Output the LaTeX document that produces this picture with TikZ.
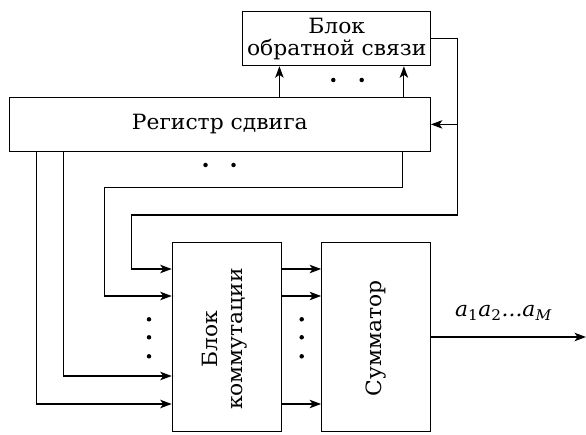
\documentclass[tikz,border=0pt]{standalone}
\usepackage{fontspec}
\setmainfont{DejaVu Serif}[FakeStretch=1.04]
\usetikzlibrary{arrows.meta,calc}
\begin{document}
\begin{tikzpicture}[x=1pt,y=-1pt,
 font=\fontsize{21}{22}\selectfont,
 blk/.style={draw,line width=1.2pt,inner sep=0pt},
 wire/.style={line width=1.1pt},
 arr/.style={wire,-{Stealth[length=11.5pt,width=8.5pt,inset=3pt]}},
 dotm/.style={circle,fill,inner sep=0pt,minimum size=4.5pt}]
\useasboundingbox (0,0) rectangle (586,435);
\node[blk,minimum width=188pt,minimum height=54pt,align=center] (fb) at (336.7,38.7) {Блок\\обратной связи};
\node[blk,minimum width=421pt,minimum height=54.2pt] (reg) at (219.8,124.4) {Регистр сдвига};
\node[blk,minimum width=109.4pt,minimum height=189.4pt] (comm) at (227,337) {};
\node[blk,minimum width=108.6pt,minimum height=189.4pt] (summ) at (376,337) {};
\node[rotate=90,align=center,font=\fontsize{21}{25}\selectfont] (commt) at ($(comm.center)+(-2.8,2)$) {Блок\\коммутации};
\node[rotate=90] (summt) at ($(summ.center)+(0,1.5)$) {Сумматор};
% feedback arrows
\coordinate (u1) at ($(fb.south west)+(37.3,0)$);
\coordinate (u2) at ($(fb.south east)+(-27.4,0)$);
\draw[arr] (u1 |- reg.north) -- (u1);
\draw[arr] (u2 |- reg.north) -- (u2);
\coordinate (fbr) at (457.7,215);
\coordinate (fbl) at (131.5,215);
\draw[arr] (fb.east) -| (fbr) -- (fbl) |- ($(comm.west)+(0,-68)$);
\draw[arr] (reg.east -| fbr) -- (reg.east);
% register outputs
\coordinate (t3) at (104.6,187.7);
\draw[arr] ($(reg.south east)+(-28,0)$) |- (t3) |- ($(comm.west)+(0,-41)$);
\draw[arr] ($(reg.south west)+(55,0)$) |- ($(comm.west)+(0,39)$);
\draw[arr] ($(reg.south west)+(27.7,0)$) |- ($(comm.west)+(0,67)$);
% between blocks
\foreach \d in {-68,-41,67}
  \draw[arr] ($(comm.east)+(0,\d)$) -- ($(summ.west)+(0,\d)$);
% output
\coordinate (out) at (586,337);
\draw[arr] (summ.east) -- (out);
\node[anchor=base] (lbl) at (503.4,317) {\itshape a\textsubscript{\upshape 1}a\textsubscript{\upshape 2}...a\textsubscript{M}};
% dots
\foreach \p in {(333.3,80),(361.7,80),(205.5,165),(233.5,165),(149,319.3),(149,337.3),(149,356.3),(301.7,319.3),(301.7,337.3),(301.7,356.3)}
  \node[dotm] at \p {};
\end{tikzpicture}
\end{document}
